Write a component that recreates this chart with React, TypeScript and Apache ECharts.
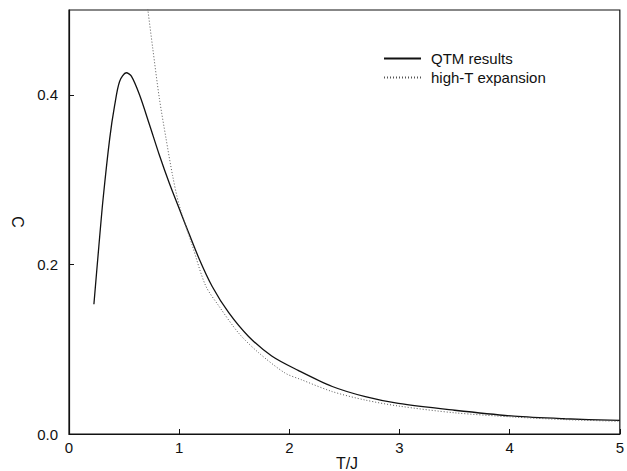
import React, { useEffect, useRef } from "react";
import * as echarts from "echarts";

const qtmT = [0.226, 0.27, 0.31, 0.37, 0.415, 0.46, 0.52, 0.566, 0.64, 0.73, 0.82, 0.91, 1.0, 1.06, 1.18, 1.3, 1.45, 1.63, 1.84, 2.08, 2.39, 2.69, 2.99, 3.5, 4.04, 4.5, 5.0];
const qtmC = [0.153, 0.22, 0.278, 0.349, 0.388, 0.416, 0.426, 0.422, 0.4, 0.365, 0.329, 0.296, 0.266, 0.246, 0.207, 0.174, 0.143, 0.115, 0.092, 0.075, 0.056, 0.044, 0.036, 0.028, 0.021, 0.018, 0.016];

const hteT = [0.705, 0.716, 0.76, 0.82, 0.88, 0.94, 1.0, 1.12, 1.24, 1.36, 1.54, 1.72, 1.96, 2.11, 2.39, 2.69, 2.99, 3.5, 4.04, 4.5, 5.0];
const hteC = [0.512, 0.5, 0.455, 0.396, 0.349, 0.305, 0.27, 0.222, 0.175, 0.151, 0.119, 0.096, 0.072, 0.064, 0.05, 0.04, 0.033, 0.025, 0.02, 0.017, 0.015];

const seriesNames = ["QTM results", "high-T expansion"];
const xTicks = [0, 1, 2, 3, 4, 5];
const yTicks = [0.0, 0.2, 0.4];
const xName = "T/J";
const yName = "C";

const FONT = "'Liberation Sans', Arial, Helvetica, sans-serif";

export default function App() {
  const ref = useRef<HTMLDivElement>(null);
  useEffect(() => {
    if (!ref.current) return;
    const chart = echarts.init(ref.current, null, { renderer: "svg" });
    const pairs = (xs: number[], ys: number[]) => xs.map((x, i) => [x, ys[i]]);
    chart.setOption({
      animation: false,
      backgroundColor: "#fff",
      textStyle: { fontFamily: FONT },
      grid: {
        left: 69,
        right: 4,
        top: 10,
        bottom: 37,
        show: true,
        borderColor: "#111",
        borderWidth: 1.2,
        backgroundColor: "transparent",
      },
      legend: {
        orient: "vertical",
        left: 383,
        top: 51,
        padding: 0,
        itemWidth: 37,
        itemHeight: 14,
        itemGap: 4,
        itemStyle: { opacity: 0 },
        textStyle: { fontSize: 15, color: "#111", fontFamily: FONT, padding: [0, 0, 0, 5] },
        data: seriesNames,
      },
      xAxis: {
        type: "value",
        min: xTicks[0],
        max: xTicks[xTicks.length - 1],
        interval: 1,
        axisLine: { show: true, lineStyle: { color: "#111", width: 1.2 } },
        axisTick: { show: true, inside: true, length: 5, lineStyle: { color: "#111" } },
        axisLabel: { fontSize: 15, color: "#111", margin: 6, fontFamily: FONT },
        splitLine: { show: false },
      },
      yAxis: {
        type: "value",
        min: 0,
        max: 0.5,
        interval: 0.2,
        axisLine: { show: true, lineStyle: { color: "#111", width: 1.2 } },
        axisTick: { show: true, inside: true, length: 5, lineStyle: { color: "#111" } },
        axisLabel: {
          fontSize: 15,
          color: "#111",
          margin: 11,
          fontFamily: FONT,
          showMaxLabel: false,
          formatter: (v: number) => (yTicks.some((t) => Math.abs(t - v) < 1e-9) ? v.toFixed(1) : ""),
        },
        splitLine: { show: false },
      },
      graphic: [
        {
          type: "text",
          x: 347,
          y: 463,
          style: { text: xName, fontSize: 16, fill: "#111", fontFamily: FONT, align: "center", verticalAlign: "middle" },
        },
        {
          type: "text",
          x: 17,
          y: 222,
          rotation: -Math.PI / 2,
          style: { text: yName, fontSize: 16, fill: "#111", fontFamily: FONT, align: "center", verticalAlign: "middle" },
        },
      ],
      series: [
        {
          name: seriesNames[0],
          type: "line",
          data: pairs(qtmT, qtmC),
          smooth: 0.3,
          symbol: "none",
          clip: true,
          lineStyle: { color: "#111", width: 1.3, type: "solid" },
          itemStyle: { color: "#111" },
        },
        {
          name: seriesNames[1],
          type: "line",
          data: pairs(hteT, hteC),
          smooth: 0.3,
          symbol: "none",
          clip: true,
          lineStyle: { color: "#555", width: 1, type: [1, 2] },
          itemStyle: { color: "#555" },
        },
      ],
    });
    return () => chart.dispose();
  }, []);
  return <div ref={ref} style={{ width: 627, height: 471, position: "absolute", left: 0, top: 0 }} />;
}
